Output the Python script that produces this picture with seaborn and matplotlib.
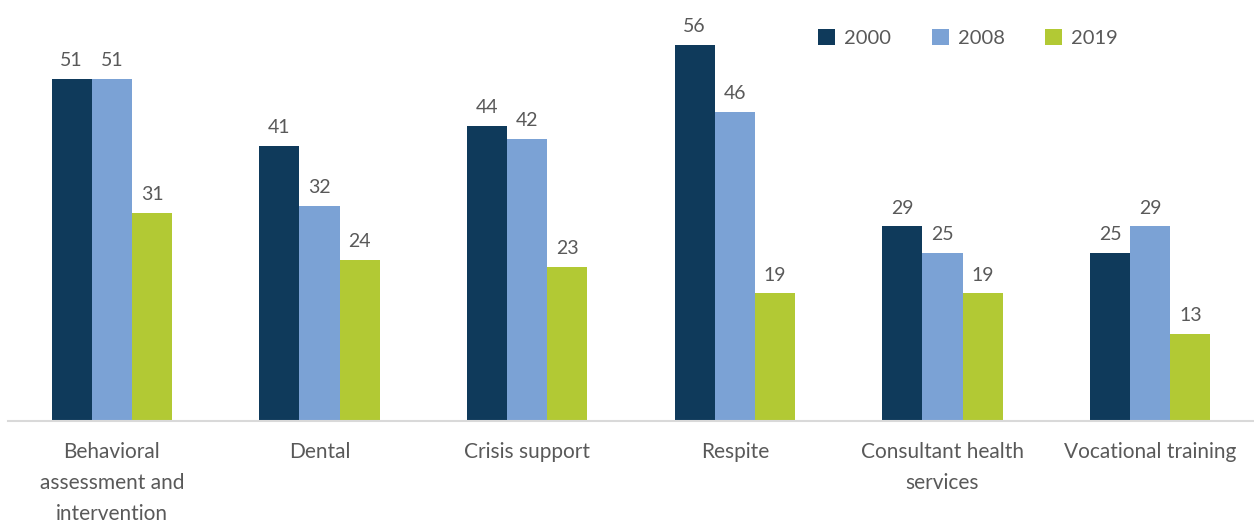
import matplotlib
matplotlib.use("Agg")
import matplotlib.pyplot as plt
import seaborn as sns
import pandas as pd

categories = ["Behavioral\nassessment and\nintervention", "Dental", "Crisis support",
              "Respite", "Consultant health\nservices", "Vocational training"]
years = ["2000", "2008", "2019"]
v2000 = [51, 41, 44, 56, 29, 25]
v2008 = [51, 32, 42, 46, 25, 29]
v2019 = [31, 24, 23, 19, 19, 13]
colors = ["#0F3A5B", "#7BA2D5", "#B2C934"]

rows = []
for yr, vals in zip(years, [v2000, v2008, v2019]):
    for c, v in zip(categories, vals):
        rows.append({"cat": c, "year": yr, "val": v})
df = pd.DataFrame(rows)

sns.set_theme(style="white")
plt.rcParams["font.family"] = ["Lato", "DejaVu Sans"]
txt = "#595959"

fig = plt.figure(figsize=(12.54, 5.23), dpi=100)
ax = fig.add_axes([8/1254, 102/523, 1 - 8/1254, 421/523])
sns.barplot(data=df, x="cat", y="val", hue="year", palette=colors, width=0.58,
            gap=0, saturation=1, ax=ax, edgecolor="none", linewidth=0, errorbar=None)
ax.set_xlim(-0.5, 5.5)
ax.set_ylim(0, 62.7)
for cont in ax.containers:
    ax.bar_label(cont, padding=7, fontsize=14, color=txt)
ax.set_xlabel("")
ax.set_ylabel("")
ax.set_yticks([])
for s in ["top", "right", "left"]:
    ax.spines[s].set_visible(False)
ax.spines["bottom"].set_color("#D9D9D9")
ax.spines["bottom"].set_linewidth(1.5)
ax.tick_params(axis="x", length=0, pad=15, labelsize=15, labelcolor=txt)
for lab in ax.get_xticklabels():
    lab.set_linespacing(1.7)
    lab.set_verticalalignment("top")
leg = ax.legend(loc="upper left", bbox_to_anchor=(792/1246, 0.975), ncol=3, frameon=False,
                fontsize=14.5, handlelength=0.85, handleheight=0.85, handletextpad=0.45,
                columnspacing=2.0)
for t in leg.get_texts():
    t.set_color(txt)
fig.savefig("out.png", dpi=100)
